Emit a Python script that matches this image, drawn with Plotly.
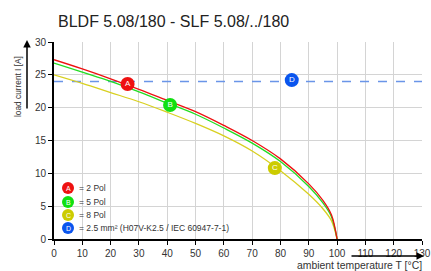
import plotly.graph_objects as go

temps = [0, 10, 20, 30, 40, 50, 60, 70, 80, 90, 95, 98, 100]
red_vals = [27.3, 25.9, 24.4, 22.8, 21.1, 19.4, 17.3, 15.0, 12.2, 8.4, 5.9, 3.7, 0]
green_vals = [26.8, 25.4, 24.0, 22.4, 20.7, 19.0, 16.9, 14.6, 11.8, 8.0, 5.5, 3.4, 0]
yellow_vals = [25.0, 23.7, 22.3, 20.9, 19.3, 17.6, 15.7, 13.4, 10.4, 6.8, 4.6, 2.8, 0]
wire_x = [0, 130]
wire_vals = [24, 24]

marker_labels = ["A", "B", "C", "D"]
marker_x = [26, 41, 78, 84]
marker_y = [23.6, 20.4, 10.8, 24.2]
colors = ["#ee1111", "#11e011", "#cccc00", "#0a55ee"]
legend_texts = ["= 2 Pol", "= 5 Pol", "= 8 Pol", "= 2.5 mm² (H07V-K2.5 / IEC 60947-7-1)"]

title = "BLDF 5.08/180 - SLF 5.08/../180"
x_title = "ambient temperature T [°C]"
y_title = "load current I [A]"
x_ticks = list(range(0, 131, 10))
y_ticks = list(range(0, 31, 5))

FONT = "Liberation Sans, Arial, sans-serif"

# body margin removed via post_script; plot area target: x 54..422, y 42..239 (window pixels)
W, H = 431, 271
plot_w, plot_h = 368, 197


def px(x):
    return (x - 54) / plot_w


def py(y):
    return (239 - y) / plot_h


fig = go.Figure()
fig.add_trace(go.Scatter(x=wire_x, y=wire_vals, mode="lines",
                         line=dict(color="#6a95e8", width=1.5, dash="dash"), hoverinfo="skip"))
fig.add_trace(go.Scatter(x=temps, y=yellow_vals, mode="lines", line=dict(color="#d8d020", width=1.3, shape="spline")))
fig.add_trace(go.Scatter(x=temps, y=green_vals, mode="lines", line=dict(color="#22dd22", width=1.3, shape="spline")))
fig.add_trace(go.Scatter(x=temps, y=red_vals, mode="lines", line=dict(color="#ee1111", width=1.3, shape="spline")))
fig.add_trace(go.Scatter(x=marker_x, y=marker_y, mode="markers+text", text=marker_labels,
                         textposition="middle center",
                         textfont=dict(color="white", size=8, family=FONT),
                         marker=dict(size=14, color=colors, line=dict(width=0))))

rows_py = [188, 202, 215, 228]
for lab, col, txt, ry in zip(marker_labels, colors, legend_texts, rows_py):
    yp = py(ry)
    xp = px(68)
    fig.add_shape(type="circle", xref="paper", yref="paper", xsizemode="pixel", ysizemode="pixel",
                  xanchor=xp, yanchor=yp, x0=-6, x1=6, y0=-6, y1=6,
                  fillcolor=col, line=dict(width=0))
    fig.add_annotation(x=xp, y=yp, xref="paper", yref="paper", text=lab, showarrow=False,
                       font=dict(color="white", size=7, family=FONT), xanchor="center", yanchor="middle")
    fig.add_annotation(x=px(77), y=yp, xref="paper", yref="paper", text=txt, showarrow=False,
                       font=dict(color="#333333", size=8.5, family=FONT), xanchor="left", yanchor="middle")

fig.add_annotation(x=px(18), y=py(87), xref="paper", yref="paper", text=y_title,
                   textangle=-90, showarrow=False, xanchor="center", yanchor="middle",
                   font=dict(color="#333333", size=8.3, family=FONT))
fig.add_annotation(x=px(27), y=py(40), xref="paper", yref="paper", text="",
                   showarrow=True, ax=0, ay=70, arrowhead=2, arrowsize=1, arrowwidth=1.5, arrowcolor="black")
fig.add_annotation(x=px(424), y=py(265), xref="paper", yref="paper", text=x_title,
                   xanchor="right", yanchor="middle", showarrow=False,
                   font=dict(color="#333333", size=10.4, family=FONT))
fig.add_annotation(x=px(424), y=py(256), xref="paper", yref="paper", text="",
                   showarrow=True, ax=-74, ay=0, arrowhead=2, arrowsize=1, arrowwidth=1.5, arrowcolor="black")

fig.update_layout(
    width=W, height=H,
    margin=dict(l=54, r=431 - 422, t=42, b=271 - 239),
    paper_bgcolor="white", plot_bgcolor="white",
    showlegend=False,
    title=dict(text=title, x=px(58), xref="paper", xanchor="left",
               y=1 - 21 / H, yanchor="middle", font=dict(size=16, color="#222222", family=FONT)),
    font=dict(family=FONT),
)
fig.update_xaxes(range=[0, 130], tickvals=x_ticks, showgrid=True, gridcolor="#d4d4d4", gridwidth=1,
                 showline=True, linecolor="black", linewidth=2, ticks="outside", ticklen=4,
                 tickcolor="black", tickfont=dict(size=10, color="#333333"), zeroline=False, fixedrange=True,
                 automargin=False)
fig.update_yaxes(range=[0, 30], tickvals=y_ticks, showgrid=True, gridcolor="#d4d4d4", gridwidth=1,
                 showline=True, linecolor="black", linewidth=2, ticks="outside", ticklen=4,
                 tickcolor="black", tickfont=dict(size=10, color="#333333"), zeroline=False, fixedrange=True,
                 automargin=False)

fig.write_html("out.html", config=dict(displayModeBar=False),
               post_script="document.body.style.margin='0';document.body.style.overflow='hidden';")
